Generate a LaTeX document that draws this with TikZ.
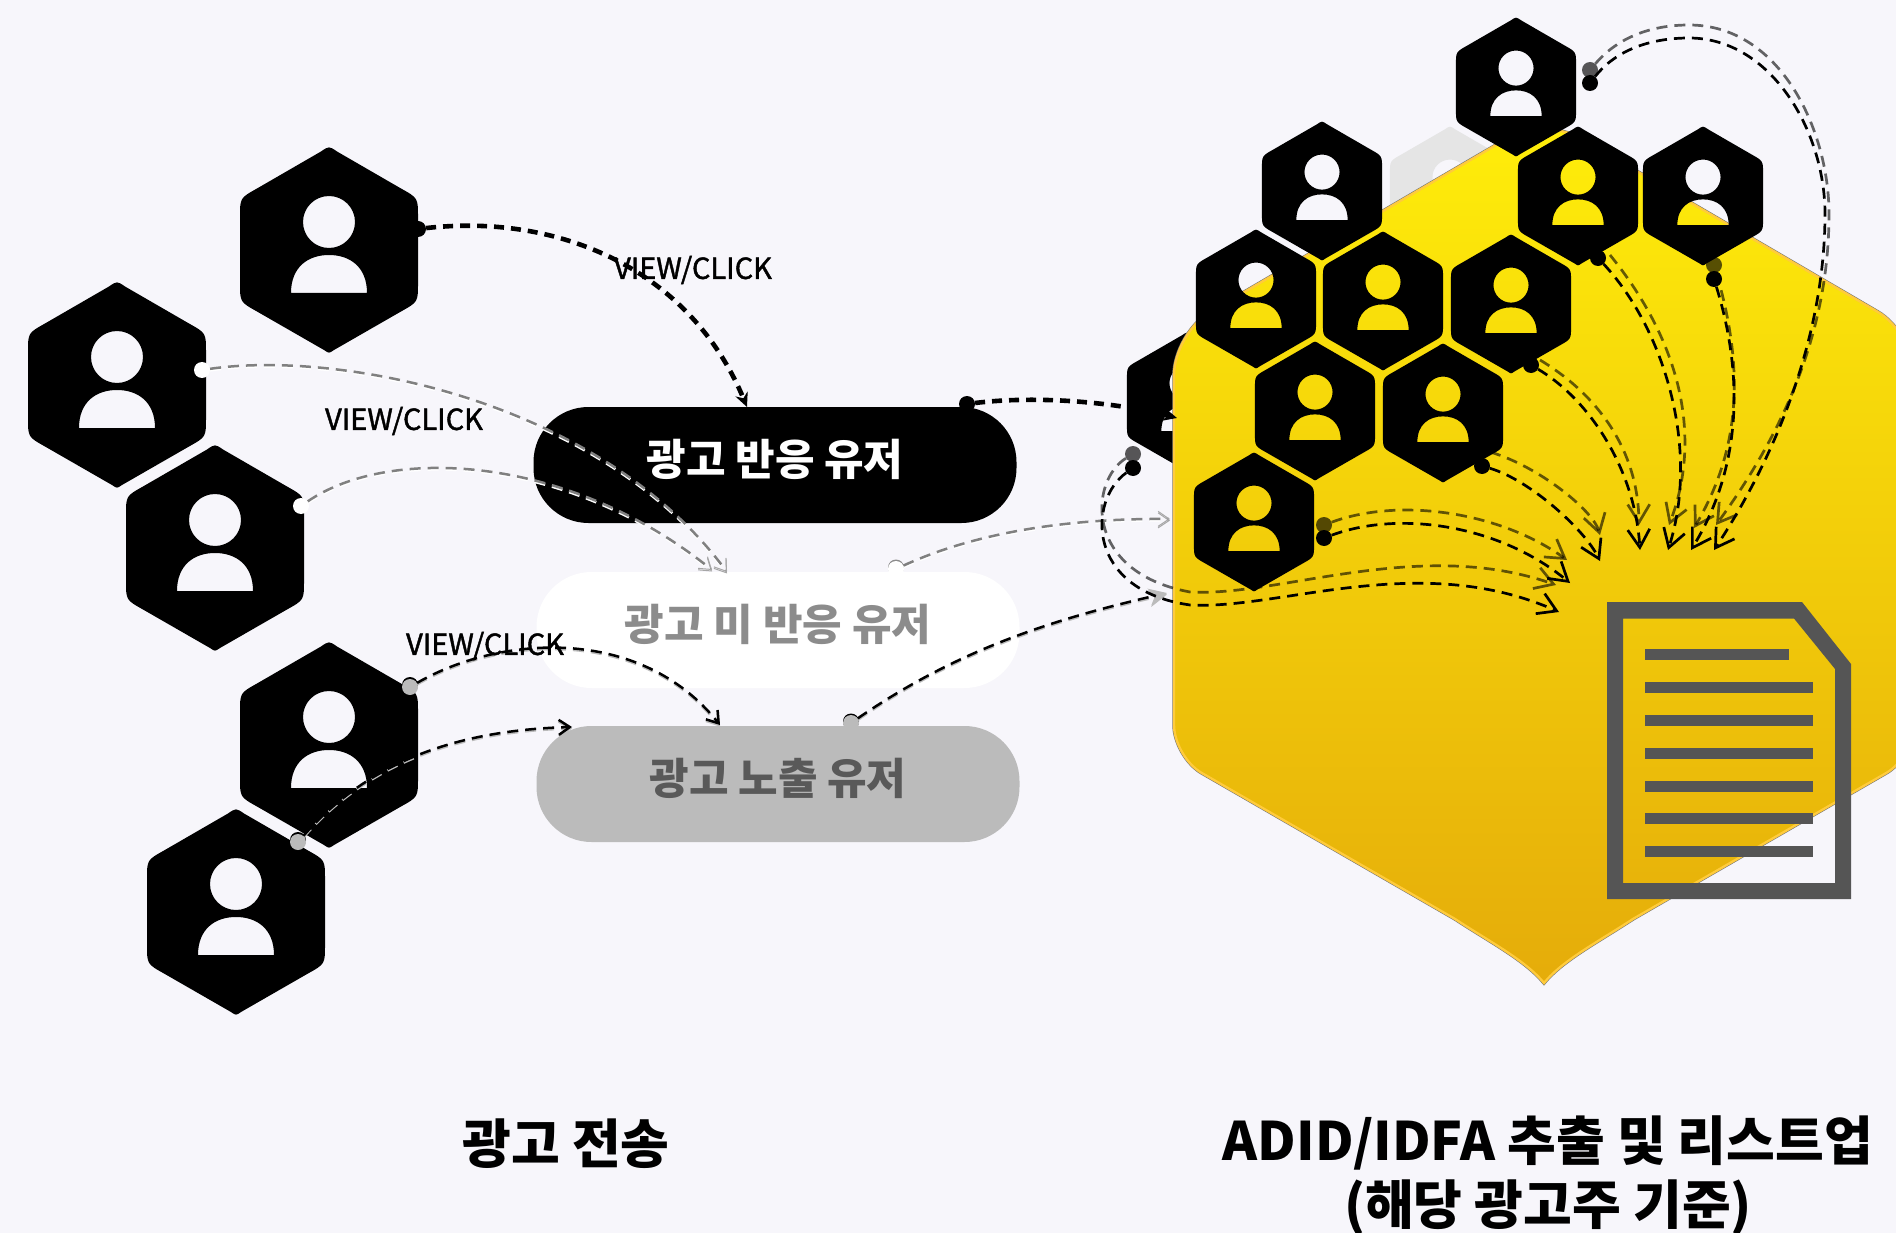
\documentclass[tikz,border=0pt]{standalone}
\usepackage{fontspec}
\setmainfont{Noto Sans CJK KR}
\newfontfamily\tagfont{Noto Sans CJK KR}[FakeBold=1.4]
\usetikzlibrary{arrows.meta}
\definecolor{paper}{HTML}{F7F6FB}
\definecolor{shieldtop}{HTML}{FFEE0A}
\definecolor{shieldbot}{HTML}{E5AC0A}
\definecolor{shieldrim}{HTML}{FFCB3C}
\definecolor{ashgray}{HTML}{BBBBBB}
\definecolor{docgray}{HTML}{555555}
\tikzset{
	pill/.style={rectangle,rounded corners=55pt,minimum width=483pt,minimum height=116pt,inner sep=0pt,text height=36pt,text depth=16pt,font=\fontsize{43}{50}\selectfont\bfseries},
	dot/.style={circle,minimum size=16pt,inner sep=0pt},
	tag/.style={inner sep=0pt,font=\fontsize{29}{34}\selectfont\tagfont},
	title/.style={inner sep=0pt,align=center,font=\fontsize{53}{64}\selectfont\bfseries},
	link/.style={dash pattern=on 11pt off 7pt,line width=2.5pt},
	boldlink/.style={dash pattern=on 10pt off 7pt,line width=4.6pt,-{Stealth[length=14pt,width=13pt]}},
	thinhead/.style={-{Straight Barb[length=11pt,width=15pt]}},
	ghosthead/.style={-{Straight Barb[length=11pt,width=15pt,line width=1pt,color=black!35]}},
	ashhead/.style={-{Stealth[length=18pt,width=17pt,color=ashgray]}},
	fanlink/.style={link,line width=2.7pt,-{Straight Barb[length=18pt,width=22pt]}},
	fanshade/.style={fanlink,opacity=.6},
}
\newcommand{\userhex}[4]{%
	\begin{scope}[shift={#2},scale=#3]
		\coordinate (#1) at (0,0);
		\fill[#4] (-8,-98.5) .. controls (0,-104) .. (8,-98.5) -- (72,-61.5) .. controls (89,-52) .. (89,-33) -- (89,33) .. controls (89,52) .. (72,61.5) -- (5,100) .. controls (0,103.5) .. (-5,100) -- (-72,61.5) .. controls (-89,52) .. (-89,33) -- (-89,-33) .. controls (-89,-52) .. (-72,-61.5) -- cycle
			(0,-28) circle (26)
			(-38,43) .. controls (-38,17) and (-21,5) .. (0,5) .. controls (21,5) and (38,17) .. (38,43) -- cycle;
	\end{scope}}
\newcommand{\twinlink}[3]{%
	\draw[link,thinhead,#2,transform canvas={yshift=-1.5pt}] #3;
	\draw[link,thinhead,#1] #3;}

\begin{document}
\begin{tikzpicture}[even odd rule,x=1pt,y=-1pt]
	\useasboundingbox (0,0) rectangle (1896,1233);
	\fill[paper] (0,0) rectangle (1896,1233);

	% behind the shield
	\userhex{faintuser}{(1450,196)}{.675}{black!10}
	\userhex{hiddenuser}{(1187,402)}{.675}{black}

	\def\shieldpath{(1174,540) [rounded corners=42pt] -- (1174,333) -- (1544,117) -- (1914,333) [rounded corners=32pt] -- (1914,757) [sharp corners] -- (1633,919) .. controls (1598,942) and (1563,960) .. (1544,983) .. controls (1525,960) and (1490,942) .. (1455,919) [rounded corners=32pt] -- (1174,757) -- cycle}
	\begin{scope}
		\clip (0,0) rectangle (1896,1233);
		\draw[black!55,line width=3.5pt] \shieldpath;
		\shade[top color=shieldtop,bottom color=shieldbot] \shieldpath;
		\draw[shieldrim,line width=2.4pt] \shieldpath;
	\end{scope}

	% audience
	\userhex{viewone}{(329,250)}{1}{black}
	\userhex{viewtwo}{(117,385)}{1}{black}
	\userhex{viewthree}{(215,548)}{1}{black}
	\userhex{seenone}{(329,745)}{1}{black}
	\userhex{seentwo}{(236,912)}{1}{black}

	% extracted users
	\userhex{listtop}{(1516,87)}{.675}{black}
	\userhex{listb}{(1322,191)}{.675}{black}
	\userhex{listc}{(1578,196)}{.675}{black}
	\userhex{listd}{(1703,196)}{.675}{black}
	\userhex{liste}{(1256,299)}{.675}{black}
	\userhex{listf}{(1383,301)}{.675}{black}
	\userhex{listg}{(1511,304)}{.675}{black}
	\userhex{listh}{(1315,411)}{.675}{black}
	\userhex{listi}{(1443,413)}{.675}{black}
	\userhex{listj}{(1254,522)}{.675}{black}

	% list icon
	\fill[docgray] (1607,602) -- (1802,602) -- (1851,664) -- (1851,899) -- (1607,899) -- cycle
		(1623,618.5) -- (1794,618.5) -- (1835,669) -- (1835,883) -- (1623,883) -- cycle;
	\fill[docgray] (1645,649) rectangle (1789,660);
	\foreach \liney in {687.5,720,753,786,818.5,851.5}
		\fill[docgray] (1645,\liney-5.5) rectangle (1813,\liney+5.5);

	\node[pill,fill=black,text=white] (reacted) at (775,465) {광고 반응 유저};
	\node[pill,fill=white,text=black!45] (ignored) at (778,630) {광고 미 반응 유저};
	\node[pill,fill=ashgray,text=black!65] (exposed) at (778,784) {광고 노출 유저};

	% dots
	\node[dot,fill=black] (viewonedot) at (418,229) {};
	\node[dot,fill=white] (viewtwodot) at (202,370) {};
	\node[dot,fill=white] (viewthreedot) at (301,506) {};
	\node[dot,fill=black] (seenonerim) at (410,685) {};
	\node[dot,fill=ashgray] (seenonedot) at (410,687) {};
	\node[dot,fill=black] (seentworim) at (298,840) {};
	\node[dot,fill=ashgray] (seentwodot) at (298,842) {};
	\node[dot,fill=black!45] (ignoredrim) at (896,567.5) {};
	\node[dot,fill=white] (ignoreddot) at (896,569) {};
	\node[dot,fill=black] (exposedrim) at (851,721.5) {};
	\node[dot,fill=ashgray] (exposeddot) at (851,723) {};
	\node[dot,fill=black] (reacteddot) at (967,404) {};

	\foreach \dotname/\dotx/\doty in {hid/1133/454,j/1324/525,d/1714/265,top/1590/70}
		\node[dot,fill=black,opacity=.65] (\dotname shade) at (\dotx,\doty) {};
	\foreach \dotname/\dotx/\doty in {hid/1133/468,j/1324/538,i/1482/466,g/1531/365,c/1598/258,d/1714/279,top/1590/83}
		\node[dot,fill=black] (\dotname dot) at (\dotx,\doty) {};

	\coordinate (reactedtop) at (747,407);
	\coordinate (missa) at (727,572);
	\coordinate (missb) at (712,570);
	\coordinate (seena) at (720,725);
	\coordinate (seenb) at (572,727);
	\coordinate (shieldgate) at (1170,519);
	\coordinate (shieldin) at (1167,593);
	\coordinate (hidhead) at (1177,418);

	\draw[boldlink] (viewonedot) .. controls (560,213) and (690,270) .. (reactedtop);
	\twinlink{draw=black!50,ghosthead}{draw=white,ghosthead}{(viewtwodot) .. controls (340,350) and (600,400) .. (missa)}
	\twinlink{draw=black!50,ghosthead}{draw=white,ghosthead}{(viewthreedot) .. controls (390,445) and (570,455) .. (missb)}
	\twinlink{draw=black}{draw=ashgray}{(seenonedot) .. controls (500,635) and (640,625) .. (seena)}
	\twinlink{draw=black}{draw=ashgray}{(seentwodot) .. controls (370,760) and (460,730) .. (seenb)}
	\twinlink{draw=black!50,ghosthead}{draw=white,ghosthead}{(ignoreddot) .. controls (970,535) and (1060,518) .. (shieldgate)}
	\twinlink{draw=black,ashhead}{draw=ashgray,ashhead}{(exposeddot) .. controls (950,655) and (1040,622) .. (shieldin)}
	\draw[boldlink] (reacteddot) .. controls (1040,395) and (1120,403) .. (hidhead);

	% into the list
	\coordinate (hidend) at (1559,612);
	\coordinate (hidendshade) at (1556,585);
	\coordinate (jend) at (1570,583);
	\coordinate (jendshade) at (1567,560);
	\coordinate (iend) at (1600,561);
	\coordinate (iendshade) at (1600,535);
	\coordinate (istart) at (1490,452);
	\coordinate (gend) at (1640,550);
	\coordinate (gendshade) at (1639,525);
	\coordinate (gstart) at (1540,360);
	\coordinate (cend) at (1668,550);
	\coordinate (cendshade) at (1669,525);
	\coordinate (cstart) at (1610,255);
	\coordinate (dend) at (1691,550);
	\coordinate (dendshade) at (1694,528);
	\coordinate (topend) at (1714,550);
	\coordinate (topendshade) at (1716,525);

	\draw[fanlink] (hiddot) .. controls (1088,500) and (1085,590) .. (1190,605) .. controls (1280,610) and (1420,550) .. (hidend);
	\draw[fanshade] (hidshade) .. controls (1090,480) and (1082,572) .. (1190,592) .. controls (1280,597) and (1420,537) .. (hidendshade);
	\draw[fanlink] (jdot) .. controls (1400,510) and (1500,525) .. (jend);
	\draw[fanshade] (jshade) .. controls (1400,497) and (1500,512) .. (jendshade);
	\draw[fanlink] (idot) .. controls (1530,480) and (1585,530) .. (iend);
	\draw[fanshade] (istart) .. controls (1538,466) and (1593,510) .. (iendshade);
	\draw[fanlink] (gdot) .. controls (1590,400) and (1635,470) .. (gend);
	\draw[fanshade] (gstart) .. controls (1598,395) and (1638,450) .. (gendshade);
	\draw[fanlink] (cdot) .. controls (1665,330) and (1700,450) .. (cend);
	\draw[fanshade] (cstart) .. controls (1675,335) and (1705,430) .. (cendshade);
	\draw[fanlink] (ddot) .. controls (1745,380) and (1740,470) .. (dend);
	\draw[fanshade] (dshade) .. controls (1745,370) and (1740,450) .. (dendshade);
	\draw[fanlink] (topdot) .. controls (1620,45) and (1660,38) .. (1689,38) .. controls (1770,38) and (1825,130) .. (1825,214) .. controls (1825,330) and (1780,450) .. (topend);
	\draw[fanshade] (topshade) .. controls (1620,35) and (1655,25) .. (1689,25) .. controls (1780,25) and (1829,130) .. (1829,214) .. controls (1829,330) and (1785,430) .. (topendshade);

	\node[tag] (tagone) at (693,270) {VIEW/CLICK};
	\node[tag] (tagtwo) at (404,421) {VIEW/CLICK};
	\node[tag] (tagthree) at (485,646) {VIEW/CLICK};

	\node[title] (sendtitle) at (566,1144) {광고 전송};
	\node[title] (listtitle) at (1548,1176) {ADID/IDFA 추출 및 리스트업\\(해당 광고주 기준)};
\end{tikzpicture}
\end{document}
